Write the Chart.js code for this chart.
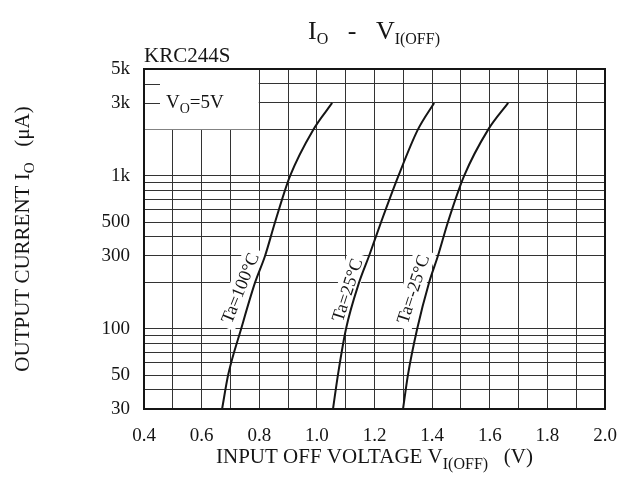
<!DOCTYPE html>
<html><head><meta charset="utf-8">
<script src="https://cdn.jsdelivr.net/npm/chart.js@4.4.1/dist/chart.umd.min.js"></script>
<style>html,body{margin:0;padding:0;background:#fff}#wrap{width:635px;height:495px;position:relative}</style>
</head><body><div id="wrap"><canvas id="c"></canvas></div>
<script>
// ---- data ----
const seriesNames = ['Ta=100°C', 'Ta=25°C', 'Ta=-25°C'];
const currentPoints = [30, 50, 100, 200, 300, 500, 1000, 2000, 3000];      // µA
const voltTa100  = [0.671, 0.692, 0.737, 0.785, 0.820, 0.855, 0.907, 0.987, 1.053];
const voltTa25   = [1.056, 1.073, 1.101, 1.146, 1.181, 1.223, 1.283, 1.350, 1.407];
const voltTaM25  = [1.299, 1.316, 1.348, 1.389, 1.420, 1.455, 1.511, 1.594, 1.664];
const xGridValues = [0.4,0.5,0.6,0.7,0.8,0.9,1.0,1.1,1.2,1.3,1.4,1.5,1.6,1.7,1.8,1.9,2.0];
const xTickLabels = ['0.4','0.6','0.8','1.0','1.2','1.4','1.6','1.8','2.0'];
const yGridValues = [30,40,50,60,70,80,90,100,200,300,400,500,600,700,800,900,1000,2000,3000,4000,5000];
const yTickValues = [30, 50, 100, 300, 500, 1000, 3000, 5000];
const yTickLabels = ['30','50','100','300','500','1k','3k','5k'];

// ---- styling / annotation placement ----
const SERIF = '"Liberation Serif", "DejaVu Serif", serif';
const GRID = '#333333';
const INK = '#151515';
const seriesLabelAnchors = [ // [volt, current, angle deg]
  [0.733, 185, 68],
  [1.105, 180, 72],
  [1.334, 182, 72]
];

const volts = [voltTa100, voltTa25, voltTaM25];
const datasets = volts.map((vs, k) => ({
  label: seriesNames[k],
  data: vs.map((v, i) => ({x: v, y: currentPoints[i]})),
  borderColor: INK, borderWidth: 2, pointRadius: 0, fill: false,
  cubicInterpolationMode: 'monotone'
}));

function drawSubText(ctx, parts, x, y) {
  let cx = x;
  for (const [t, size, dy] of parts) {
    ctx.font = size + 'px ' + SERIF;
    ctx.fillText(t, cx, y + dy);
    cx += ctx.measureText(t).width;
  }
  return cx - x;
}
function measureSub(ctx, parts) {
  let w = 0;
  for (const [t, size] of parts) { ctx.font = size + 'px ' + SERIF; w += ctx.measureText(t).width; }
  return w;
}

const annot = {
  id: 'annot',
  beforeDatasetsDraw(chart) {
    const {ctx, chartArea: a, scales: {x, y}} = chart;
    ctx.save();
    const bx1 = x.getPixelForValue(0.8), by1 = y.getPixelForValue(2000);
    ctx.fillStyle = '#fff';
    ctx.fillRect(a.left + 1, a.top + 1, bx1 - a.left - 1.5, by1 - a.top - 1.5);
    ctx.strokeStyle = GRID; ctx.lineWidth = 1;
    for (const v of [4000, 3000]) {
      const py = Math.round(y.getPixelForValue(v)) + 0.5;
      ctx.beginPath(); ctx.moveTo(a.left, py); ctx.lineTo(a.left + 16, py); ctx.stroke();
    }
    ctx.fillStyle = INK; ctx.textBaseline = 'alphabetic'; ctx.textAlign = 'left';
    drawSubText(ctx, [['V', 19, 0], ['O', 14, 5], ['=5V', 19, 0]], a.left + 22, y.getPixelForValue(3000) + 5);
    seriesLabelAnchors.forEach(([v, c, ang], k) => {
      const px = x.getPixelForValue(v), py = y.getPixelForValue(c);
      ctx.save();
      ctx.translate(px, py);
      ctx.rotate(-ang * Math.PI / 180);
      ctx.font = '18px ' + SERIF;
      const w = ctx.measureText(seriesNames[k]).width;
      ctx.fillStyle = '#fff';
      ctx.fillRect(-w / 2 - 5, -11, w + 10, 22);
      ctx.fillStyle = INK; ctx.textAlign = 'center'; ctx.textBaseline = 'middle';
      ctx.fillText(seriesNames[k], 0, 1);
      ctx.restore();
    });
    ctx.restore();
  },
  afterDraw(chart) {
    const {ctx, chartArea: a} = chart;
    ctx.save();
    ctx.strokeStyle = INK; ctx.lineWidth = 2;
    ctx.strokeRect(a.left, a.top, a.right - a.left, a.bottom - a.top);
    ctx.fillStyle = INK; ctx.textAlign = 'left'; ctx.textBaseline = 'alphabetic';
    // title
    const tParts = [['I', 26, 0], ['O', 16, 5], ['   -   ', 26, 0], ['V', 26, 0], ['I(OFF)', 16, 5]];
    const tw = measureSub(ctx, tParts);
    drawSubText(ctx, tParts, 374 - tw / 2, 39);
    // part number
    ctx.font = '21px ' + SERIF;
    ctx.fillText('KRC244S', a.left, 62);
    // x title
    const xParts = [['INPUT OFF VOLTAGE V', 21, 0], ['I(OFF)', 16, 6], ['   (V)', 21, 0]];
    const xw = measureSub(ctx, xParts);
    drawSubText(ctx, xParts, (a.left + a.right) / 2 - xw / 2, 463);
    // y title
    const yParts = [['OUTPUT CURRENT I', 21, 0], ['O', 15, 5], ['   (μA)', 21, 0]];
    const yw = measureSub(ctx, yParts);
    ctx.translate(29, (a.top + a.bottom) / 2);
    ctx.rotate(-Math.PI / 2);
    drawSubText(ctx, yParts, -yw / 2, 0);
    ctx.restore();
  }
};

new Chart(document.getElementById('c'), {
  type: 'line',
  data: {datasets},
  options: {
    responsive: true, maintainAspectRatio: false, animation: false,
    layout: {padding: {top: 69, right: 30, left: 0, bottom: 0}},
    plugins: {legend: {display: false}, tooltip: {enabled: false}, title: {display: false}},
    scales: {
      x: {
        type: 'linear', min: 0.4, max: 2.0,
        afterBuildTicks: s => { s.ticks = xGridValues.map(v => ({value: v})); },
        afterFit: s => { s.height = 86; },
        ticks: {
          autoSkip: false, maxRotation: 0, padding: 16, color: INK,
          font: {family: SERIF, size: 19},
          callback: v => { const t = v.toFixed(1); return xTickLabels.includes(t) ? t : ''; }
        },
        grid: {color: GRID, lineWidth: 1, drawTicks: false},
        border: {color: INK, width: 2}
      },
      y: {
        type: 'logarithmic', min: 30, max: 5000,
        afterBuildTicks: s => { s.ticks = yGridValues.map(v => ({value: v})); },
        afterFit: s => { s.width = 144; },
        ticks: {
          autoSkip: false, padding: 14, color: INK,
          font: {family: SERIF, size: 19},
          callback: v => { const i = yTickValues.indexOf(v); return i >= 0 ? yTickLabels[i] : ''; }
        },
        grid: {color: GRID, lineWidth: 1, drawTicks: false},
        border: {color: INK, width: 2}
      }
    }
  },
  plugins: [annot]
});
</script>
</body></html>
